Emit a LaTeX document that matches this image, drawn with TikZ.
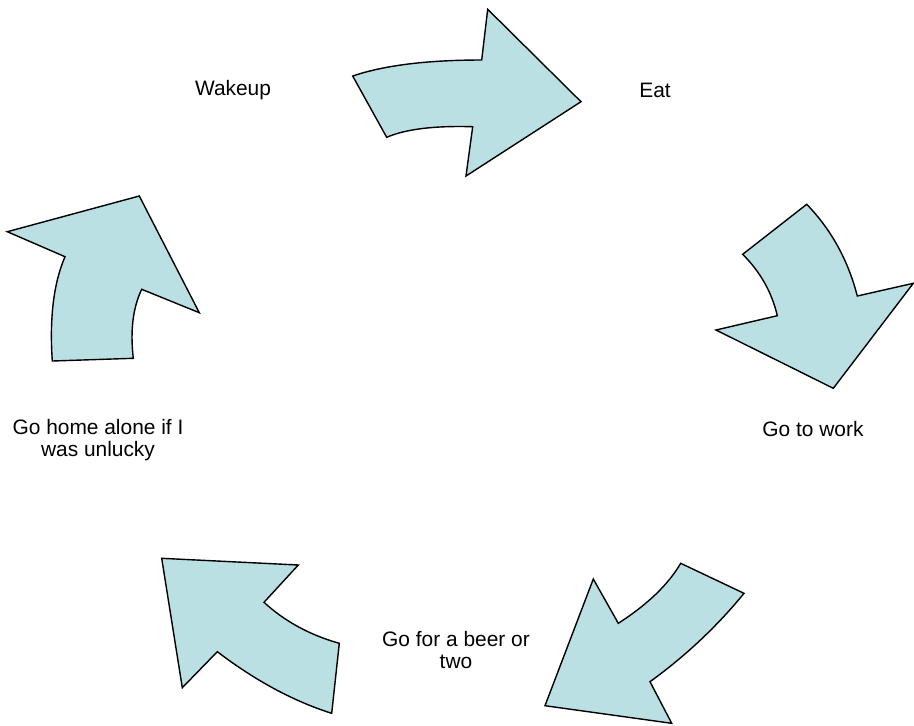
\documentclass[tikz,border=0pt]{standalone}
\usepackage{fontspec}
\setmainfont{Liberation Sans}
\usepackage{xcolor}
\usepackage{tikz}
\usetikzlibrary{positioning}

\definecolor{arrowfill}{RGB}{187,224,227}

\begin{document}
\begin{tikzpicture}[x=0.02cm, y=-0.02cm, thick,
    cyclearrow/.style={draw=black, fill=arrowfill, line width=0.8pt, line join=miter},
    steplabel/.style={align=center, inner sep=0pt, font=\fontsize{11.9}{12.6}\selectfont}]
    \useasboundingbox (0,0) rectangle (914,725);

    % Steps of the day
    \node [steplabel] (wakeup) at (233,90) {Wakeup};
    \node [steplabel] (eat) at (655,90) {Eat};
    \node [steplabel] (work) at (813,429) {Go to work};
    \node [steplabel] (beer) at (456,650) {Go for a beer or\\two};
    \node [steplabel] (home) at (98,440) {Go home alone if I\\was unlucky};

    % Wakeup -> Eat
    \draw [cyclearrow] (352.7,76) .. controls (384.2,65.3) and (427.2,60) .. (481.7,60)
        -- (487.7,9.3) -- (581,101.7) -- (466,176) -- (472.7,126.7)
        .. controls (434.2,125.6) and (405.6,129.1) .. (386.7,137.3) -- cycle;

    % Eat -> Go to work
    \draw [cyclearrow] (806.7,204.3) .. controls (831.1,229.4) and (848,260) .. (857.3,296)
        -- (913.3,283.3) -- (833.3,388.3) -- (716,330) -- (777.3,315.7)
        .. controls (771.9,292.4) and (760.4,272) .. (742.7,254.3) -- cycle;

    % Go to work -> beer
    \draw [cyclearrow] (744,593.3) .. controls (717.1,626.3) and (685.7,655.8) .. (650,681.7)
        -- (671.7,723.3) -- (545,705.7) -- (593.3,579) -- (618.3,623.3)
        .. controls (647.6,604.4) and (668.4,584.4) .. (680.7,563.3) -- cycle;

    % beer -> home
    \draw [cyclearrow] (331.7,713.3) .. controls (293.5,701.2) and (255.4,680.7) .. (217.3,651.7)
        -- (182.3,687.7) -- (161.7,558.3) -- (298.3,565) -- (264,602.3)
        .. controls (284.7,621.3) and (309.8,635) .. (339.3,643.3) -- cycle;

    % home -> Wakeup
    \draw [cyclearrow] (52.3,361) .. controls (49.4,318) and (53.6,283.2) .. (65,256.7)
        -- (7.3,231.7) -- (139.3,196) -- (199.3,312.7) -- (141.7,289.3)
        .. controls (132.9,307.7) and (130.1,330.7) .. (133.3,358.3) -- cycle;
\end{tikzpicture}
\end{document}
